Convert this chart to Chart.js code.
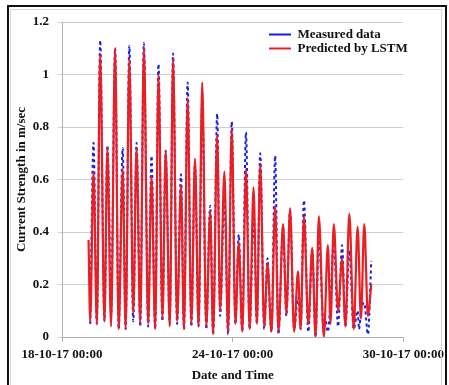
<!DOCTYPE html>
<html>
<head>
<meta charset="utf-8">
<script src="https://cdn.jsdelivr.net/npm/chart.js@4.4.1/dist/chart.umd.min.js"></script>
<style>
  html, body { margin: 0; padding: 0; background: #fff; }
  #wrap { position: relative; width: 449px; height: 385px; overflow: hidden; }
  #chart { position: absolute; left: 0; top: 0; }
  #frame { position: absolute; left: 7px; top: 5px; width: 436px; height: 400px;
           border: 2px solid #111; border-bottom: none; pointer-events: none; }
  #inner { position: absolute; left: 10px; top: 9px; width: 430px; height: 400px;
           border: 1px solid #d4d4d4; border-bottom: none; pointer-events: none; }
</style>
</head>
<body>
<div id="wrap">
  <canvas id="chart" width="449" height="385"></canvas>
  <div id="frame"></div>
  <div id="inner"></div>
</div>
<script>
// hours since 18-10-17 00:00
var predictedHours = [22.4, 23.8, 26.6, 29.4, 32.2, 35.8, 38.3, 41.4, 44.8, 47.8, 51.2, 53.7, 56.8, 60.1, 62.9, 66.0,
    69.1, 72.7, 75.5, 78.6, 81.4, 84.7, 87.5, 90.9, 93.7, 97.1, 100.4, 102.9, 106.0, 109.1, 112.2, 115.2,
    118.3, 121.7, 125.0, 127.5, 130.9, 133.4, 137.0, 140.1, 143.2, 146.3, 149.1, 152.1, 155.2, 158.3,
    161.6, 164.4, 167.2, 170.6, 173.4, 176.7, 179.8, 182.6, 186.5, 189.3, 192.4, 195.8, 199.1, 201.3,
    204.1, 207.8, 211.1, 213.9, 216.7, 220.9, 224.3, 226.5, 229.3, 232.9, 236.3, 239.1, 242.4, 246.1,
    249.4, 252.2, 255.0, 258.1, 260.9];
var predictedValues = [0.37, 0.06, 0.63, 0.05, 1.08, 0.06, 0.72, 0.04, 1.10, 0.03, 0.64, 0.03, 1.06, 0.09, 0.72, 0.05,
    1.10, 0.05, 0.61, 0.03, 1.00, 0.07, 0.71, 0.04, 1.06, 0.06, 0.58, 0.03, 0.91, 0.05, 0.68, 0.04,
    0.97, 0.04, 0.48, 0.01, 0.77, 0.10, 0.63, 0.02, 0.79, 0.05, 0.36, 0.02, 0.64, 0.03,
    0.57, 0.05, 0.66, 0.04, 0.28, 0.02, 0.50, 0.02, 0.43, 0.09, 0.49, 0.02, 0.25, 0.03,
    0.46, 0.05, 0.34, 0.00, 0.46, 0.00, 0.35, 0.05, 0.43, 0.10, 0.30, 0.04, 0.47, 0.03,
    0.42, 0.07, 0.43, 0.08, 0.20];

var measuredHours = [23.8, 26.6, 29.4, 32.2, 35.8, 38.3, 39.4, 41.4, 44.8, 47.8, 51.2, 53.7, 56.8, 60.1, 62.9, 64.0, 66.0,
    69.1, 72.7, 75.5, 78.6, 81.4, 84.7, 87.5, 88.6, 90.9, 93.7, 97.1, 100.4, 102.9, 106.0, 109.1, 112.2, 113.2, 115.2,
    118.3, 121.7, 125.0, 127.5, 130.9, 133.4, 137.0, 137.9, 140.1, 143.2, 146.3, 148.2, 149.1, 152.1, 155.2, 158.3,
    161.6, 162.5, 164.4, 167.2, 170.6, 173.4, 174.4, 176.7, 179.8, 182.6, 186.5, 187.4, 189.3, 192.4, 195.8, 199.1, 199.9, 201.3,
    204.1, 207.8, 211.1, 212.0, 213.9, 216.7, 220.9, 222.5, 224.3, 226.0, 229.3, 232.9, 236.3, 239.1, 242.4, 246.1,
    249.4, 250.6, 252.2, 255.0, 258.1, 260.9];
var measuredValues = [0.05, 0.74, 0.05, 1.13, 0.06, 0.73, 0.60, 0.09, 1.10, 0.03, 0.72, 0.03, 1.11, 0.06, 0.74, 0.57, 0.04,
    1.12, 0.04, 0.69, 0.03, 1.04, 0.06, 0.71, 0.52, 0.05, 1.08, 0.05, 0.62, 0.03, 0.97, 0.04, 0.66, 0.48, 0.04,
    0.90, 0.03, 0.50, 0.01, 0.85, 0.08, 0.55, 0.42, 0.01, 0.82, 0.05, 0.30, 0.39, 0.02, 0.78, 0.03,
    0.45, 0.38, 0.05, 0.70, 0.03, 0.30, 0.20, 0.02, 0.69, 0.01, 0.42, 0.33, 0.08, 0.48, 0.03, 0.15, 0.13, 0.03,
    0.52, 0.02, 0.33, 0.25, 0.00, 0.38, 0.02, 0.06, 0.02, 0.10, 0.36, 0.04, 0.35, 0.04, 0.33, 0.03,
    0.10, 0.03, 0.10, 0.13, 0.01, 0.29];

var xTickLabels = ['18-10-17 00:00', '24-10-17 00:00', '30-10-17 00:00'];
var hoursPerTick = 144;

function toPoints(xs, ys) {
    return xs.map(function (x, i) { return { x: x, y: ys[i] }; });
}

var serif = 'Liberation Serif, Times New Roman, serif';

var legendInside = {
    id: 'legendInside',
    afterLayout: function (chart) {
        var lg = chart.legend;
        lg.left = 268;
        lg.top = 27;
        lg.right = lg.left + lg.width;
        lg.bottom = lg.top + 40;
    }
};

var ctx = document.getElementById('chart').getContext('2d');
var chart = new Chart(ctx, {
    type: 'line',
    data: {
        datasets: [
            // red drawn on top, so it comes first
            {
                label: 'Predicted by LSTM',
                data: toPoints(predictedHours, predictedValues),
                borderColor: 'rgb(235, 30, 35)',
                borderWidth: 2.2,
                pointRadius: 0,
                cubicInterpolationMode: 'monotone'
            },
            {
                label: 'Measured data',
                data: toPoints(measuredHours, measuredValues),
                borderColor: 'rgb(25, 30, 225)',
                borderWidth: 2,
                borderDash: [3, 3],
                pointRadius: 0,
                cubicInterpolationMode: 'monotone'
            }
        ]
    },
    options: {
        responsive: false,
        animation: false,
        layout: { padding: { left: 0, top: 22, right: 44, bottom: 0 } },
        plugins: {
            tooltip: { enabled: false },
            legend: {
                position: 'chartArea',
                align: 'start',
                labels: {
                    usePointStyle: true,
                    pointStyle: 'line',
                    pointStyleWidth: 22,
                    padding: 1,
                    color: '#111',
                    font: { family: serif, size: 13, weight: 'bold' },
                    sort: function (a, b) { return b.datasetIndex - a.datasetIndex; }
                }
            }
        },
        scales: {
            x: {
                type: 'linear',
                min: 0,
                max: 288,
                afterFit: function (s) { s.height = 48; },
                border: { color: '#b0b0b0' },
                grid: { drawOnChartArea: false, drawTicks: true, tickLength: 5, color: '#b0b0b0' },
                ticks: {
                    stepSize: hoursPerTick,
                    maxRotation: 0,
                    padding: 5,
                    color: '#111',
                    font: { family: serif, size: 13, weight: 'bold' },
                    callback: function (v) { return xTickLabels[Math.round(v / hoursPerTick)]; }
                },
                title: {
                    display: true,
                    text: 'Date and Time',
                    color: '#111',
                    padding: { top: 0, bottom: 2 },
                    font: { family: serif, size: 13, weight: 'bold' }
                }
            },
            y: {
                min: 0,
                max: 1.2,
                afterFit: function (s) { s.width = 62; },
                border: { color: '#b0b0b0' },
                grid: { color: '#cfcfcf', drawTicks: true, tickLength: 4 },
                ticks: {
                    stepSize: 0.2,
                    padding: 9,
                    color: '#111',
                    font: { family: serif, size: 13, weight: 'bold' },
                    callback: function (v) { return String(Number(v.toFixed(1))); }
                },
                title: {
                    display: true,
                    text: 'Current Strength in m/sec',
                    color: '#111',
                    padding: { top: 14, bottom: 0 },
                    font: { family: serif, size: 13, weight: 'bold' }
                }
            }
        }
    },
    plugins: [legendInside]
});
</script>
</body>
</html>
